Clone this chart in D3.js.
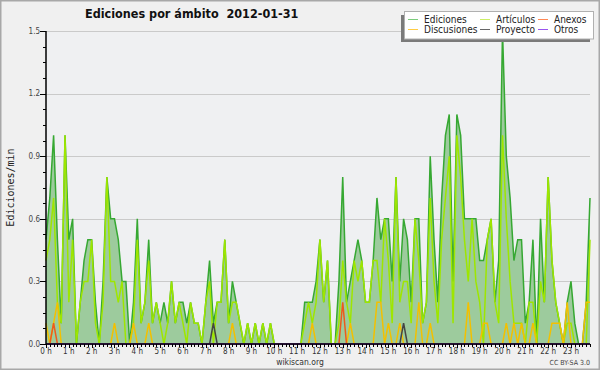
<!DOCTYPE html>
<html>
<head>
<meta charset="utf-8">
<script src="https://cdn.jsdelivr.net/npm/d3@7/dist/d3.min.js"></script>
<style>
body { margin: 0; background: #f0f0f0; }
svg { display: block; font-family: "DejaVu Sans Condensed", "DejaVu Sans", sans-serif; }
</style>
</head>
<body>
<div id="chart"></div>
<script>
// edits per minute, one value per 10 minutes (one line = one hour)
var ediciones = [
    0.5, 0.7, 1.0, 0.5, 0.1, 1.0,   0.5, 0.6, 0.0, 0.2, 0.4, 0.5,
    0.5, 0.2, 0.0, 0.3, 0.8, 0.6,   0.6, 0.5, 0.3, 0.3, 0.0, 0.2,
    0.6, 0.1, 0.2, 0.5, 0.1, 0.2,   0.1, 0.2, 0.1, 0.3, 0.1, 0.2,
    0.2, 0.1, 0.2, 0.1, 0.1, 0.0,   0.2, 0.4, 0.1, 0.2, 0.2, 0.5,
    0.1, 0.3, 0.2, 0.1, 0.0, 0.1,   0.0, 0.1, 0.0, 0.1, 0.0, 0.1,
    0.0, 0.0, 0.0, 0.0, 0.0, 0.0,   0.0, 0.0, 0.2, 0.2, 0.2, 0.3,
    0.5, 0.2, 0.4, 0.0, 0.0, 0.3,   0.8, 0.2, 0.3, 0.4, 0.5, 0.4,
    0.2, 0.2, 0.4, 0.7, 0.5, 0.6,   0.6, 0.3, 0.8, 0.3, 0.6, 0.5,
    0.2, 0.6, 0.6, 0.1, 0.2, 0.9,   0.5, 0.2, 0.7, 1.0, 1.1, 0.3,
    1.1, 1.0, 0.6, 0.6, 0.6, 0.6,   0.4, 0.4, 0.5, 0.6, 0.2, 0.4,
    1.5, 0.9, 0.7, 0.4, 0.5, 0.5,   0.1, 0.2, 0.5, 0.0, 0.6, 0.2,
    0.8, 0.4, 0.2, 0.1, 0.0, 0.2,   0.3, 0.1, 0.0, 0.0, 0.2, 0.7
];
var articulos = [
    0.4, 0.5, 0.7, 0.2, 0.1, 1.0,   0.2, 0.5, 0.0, 0.2, 0.3, 0.3,
    0.5, 0.1, 0.0, 0.2, 0.8, 0.3,   0.3, 0.2, 0.3, 0.0, 0.0, 0.1,
    0.5, 0.1, 0.2, 0.4, 0.1, 0.2,   0.1, 0.0, 0.1, 0.3, 0.1, 0.2,
    0.1, 0.0, 0.2, 0.1, 0.1, 0.0,   0.2, 0.3, 0.0, 0.2, 0.2, 0.5,
    0.1, 0.2, 0.2, 0.1, 0.0, 0.1,   0.0, 0.1, 0.0, 0.1, 0.0, 0.1,
    0.0, 0.0, 0.0, 0.0, 0.0, 0.0,   0.0, 0.0, 0.1, 0.2, 0.1, 0.2,
    0.5, 0.2, 0.4, 0.0, 0.0, 0.1,   0.4, 0.2, 0.1, 0.4, 0.3, 0.4,
    0.2, 0.2, 0.4, 0.4, 0.2, 0.6,   0.4, 0.1, 0.8, 0.2, 0.3, 0.3,
    0.1, 0.6, 0.4, 0.1, 0.2, 0.7,   0.3, 0.1, 0.5, 0.7, 0.9, 0.1,
    1.0, 0.8, 0.5, 0.3, 0.6, 0.3,   0.2, 0.0, 0.5, 0.6, 0.2, 0.1,
    1.0, 0.6, 0.3, 0.1, 0.1, 0.1,   0.0, 0.2, 0.2, 0.0, 0.3, 0.2,
    0.8, 0.4, 0.2, 0.1, 0.0, 0.1,   0.1, 0.0, 0.0, 0.0, 0.0, 0.5
];
var discusiones = [
    0.1, 0, 0.1, 0.2, 0, 0,   0, 0, 0, 0, 0, 0,   0, 0, 0, 0, 0, 0,   0.1, 0, 0, 0, 0, 0.1,
    0, 0, 0, 0.1, 0, 0,   0, 0, 0, 0, 0, 0,   0, 0, 0, 0, 0, 0,   0, 0, 0, 0, 0, 0,
    0, 0.1, 0, 0, 0, 0,   0, 0, 0, 0, 0, 0,   0, 0, 0, 0, 0, 0,   0, 0, 0, 0, 0.1, 0,
    0, 0, 0, 0, 0, 0,   0, 0, 0.1, 0, 0, 0,   0, 0, 0, 0.2, 0.2, 0,   0.1, 0, 0, 0.1, 0, 0,
    0, 0, 0.2, 0, 0, 0.1,   0, 0, 0, 0, 0, 0,   0, 0, 0, 0.2, 0, 0,   0, 0.1, 0.1, 0, 0, 0,
    0, 0.1, 0, 0.1, 0, 0.1,   0, 0, 0.1, 0, 0, 0,   0, 0.1, 0.1, 0.1, 0, 0.2,   0, 0, 0, 0, 0.2, 0.2
];
var anexos = [
    0, 0, 0.1, 0, 0, 0,   0, 0, 0, 0, 0, 0,   0, 0, 0, 0, 0, 0,   0, 0, 0, 0, 0, 0,
    0, 0, 0, 0, 0, 0,   0, 0, 0, 0, 0, 0,   0, 0, 0, 0, 0, 0,   0, 0, 0, 0, 0, 0,
    0, 0, 0, 0, 0, 0,   0, 0, 0, 0, 0, 0,   0, 0, 0, 0, 0, 0,   0, 0, 0, 0, 0, 0,
    0, 0, 0, 0, 0, 0,   0.2, 0, 0, 0, 0, 0,   0, 0, 0, 0, 0, 0,   0, 0, 0, 0, 0, 0,
    0, 0, 0, 0, 0, 0,   0, 0, 0, 0, 0, 0,   0, 0, 0, 0, 0, 0,   0, 0, 0, 0, 0, 0,
    0, 0, 0, 0, 0, 0,   0, 0, 0, 0, 0, 0,   0, 0, 0, 0, 0, 0,   0, 0, 0, 0, 0, 0
];
var proyecto = [
    0, 0, 0, 0, 0, 0,   0, 0, 0, 0, 0, 0,   0, 0, 0, 0, 0, 0,   0, 0, 0, 0, 0, 0,
    0, 0, 0, 0, 0, 0,   0, 0, 0, 0, 0, 0,   0, 0, 0, 0, 0, 0,   0, 0, 0.1, 0, 0, 0,
    0, 0, 0, 0, 0, 0,   0, 0, 0, 0, 0, 0,   0, 0, 0, 0, 0, 0,   0, 0, 0, 0, 0, 0,
    0, 0, 0, 0, 0, 0,   0, 0, 0, 0, 0, 0,   0, 0, 0, 0, 0, 0,   0, 0, 0, 0, 0.1, 0,
    0, 0, 0, 0, 0, 0,   0, 0, 0, 0, 0, 0,   0, 0, 0, 0, 0, 0,   0, 0, 0, 0, 0, 0,
    0, 0, 0, 0, 0, 0,   0, 0, 0, 0, 0, 0,   0, 0, 0, 0, 0, 0,   0, 0, 0, 0, 0, 0
];
var otros = ediciones.map(function () { return 0; });

var legendNames = ["Ediciones", "Discusiones", "Artículos", "Proyecto", "Anexos", "Otros"];
var yTicks = [0.0, 0.3, 0.6, 0.9, 1.2, 1.5];
var hourLabels = d3.range(24).map(function (h) { return h + " h"; });
var title = "Ediciones por ámbito  2012-01-31";

var colors = {
    fill: "#9dcb9d",
    Ediciones: "#36a832",
    "Artículos": "#9ee600",
    Discusiones: "#f3c000",
    Anexos: "#ee5a1c",
    Proyecto: "#444444",
    Otros: "#9a40f0"
};
var legendColors = {
    Ediciones: "#7ccc7c",
    "Artículos": "#ccee66",
    Discusiones: "#ffcc44",
    Anexos: "#ff8855",
    Proyecto: "#666666",
    Otros: "#9955ee"
};

var W = 600, H = 370;
var margin = {top: 31, right: 10, bottom: 26, left: 46},
    width = W - margin.left - margin.right,
    height = H - margin.top - margin.bottom;

var svg = d3.select("#chart").append("svg")
    .attr("width", W)
    .attr("height", H);

svg.append("rect")
    .attr("x", 0.75).attr("y", 0.75)
    .attr("width", W - 1.5).attr("height", H - 1.5)
    .attr("fill", "#f0f0f0")
    .attr("stroke", "#a8a8a8")
    .attr("stroke-width", 1.5);

var g = svg.append("g")
    .attr("transform", "translate(" + margin.left + "," + margin.top + ")");

// minutes since midnight, last sample at 23:50
var x = d3.scaleLinear().domain([0, 1430]).range([0, width]);
var y = d3.scaleLinear().domain([0, 1.5]).range([height, 0]);

g.append("rect")
    .attr("width", width).attr("height", height)
    .attr("fill", "#eff0f2");

// grid
g.selectAll(".grid")
    .data(yTicks.slice(1))
    .enter().append("line")
    .attr("class", "grid")
    .attr("x1", 0).attr("x2", width)
    .attr("y1", function (d) { return Math.round(y(d)) + 0.5; })
    .attr("y2", function (d) { return Math.round(y(d)) + 0.5; })
    .attr("stroke", "#cacaca");

function tm(d, i) { return i * 10; }

var area = d3.area()
    .x(function (d, i) { return x(tm(d, i)); })
    .y0(y(0))
    .y1(function (d) { return y(d); });
var line = d3.line()
    .x(function (d, i) { return x(tm(d, i)); })
    .y(function (d) { return y(d); });

g.append("path")
    .datum(ediciones)
    .attr("d", area)
    .attr("fill", colors.fill);

var series = [
    ["Ediciones", ediciones],
    ["Artículos", articulos],
    ["Discusiones", discusiones],
    ["Anexos", anexos],
    ["Proyecto", proyecto],
    ["Otros", otros]
];
series.forEach(function (s) {
    g.append("path")
        .datum(s[1])
        .attr("d", line)
        .attr("fill", "none")
        .attr("stroke", colors[s[0]])
        .attr("stroke-width", 1.5)
        .attr("stroke-linejoin", "miter");
});

// y axis
var yMinor = d3.range(0, 21).map(function (i) { return i * 0.075; });
g.selectAll(".ytick")
    .data(yMinor)
    .enter().append("line")
    .attr("x1", function (d, i) { return i % 4 === 0 ? -6 : -3; })
    .attr("x2", 0)
    .attr("y1", function (d) { return Math.round(y(d)) + 0.5; })
    .attr("y2", function (d) { return Math.round(y(d)) + 0.5; })
    .attr("stroke", "#000");
g.selectAll(".ylab")
    .data(yTicks)
    .enter().append("text")
    .attr("x", -6)
    .attr("y", function (d) { return y(d); })
    .attr("dy", "0.35em")
    .attr("text-anchor", "end")
    .attr("font-size", 8)
    .attr("fill", "#444")
    .text(function (d) { return d.toFixed(1); });

// x axis
var xMinor = d3.range(0, 144).map(function (i) { return i * 10; });
g.selectAll(".xtick")
    .data(xMinor)
    .enter().append("line")
    .attr("x1", function (d) { return Math.round(x(d)) + 0.5; })
    .attr("x2", function (d) { return Math.round(x(d)) + 0.5; })
    .attr("y1", height)
    .attr("y2", function (d) { return d % 60 === 0 ? height + 4 : height + 3; })
    .attr("stroke", "#000");
g.selectAll(".xlab")
    .data(hourLabels)
    .enter().append("text")
    .attr("x", function (d, i) { return x(i * 60); })
    .attr("y", height + 10)
    .attr("text-anchor", "middle")
    .attr("font-size", 8)
    .attr("fill", "#333")
    .text(function (d) { return d; });

g.append("line")
    .attr("x1", 0).attr("x2", width)
    .attr("y1", height).attr("y2", height)
    .attr("stroke", "#000").attr("stroke-width", 1.5);
g.append("line")
    .attr("x1", 0).attr("x2", 0)
    .attr("y1", 0).attr("y2", height)
    .attr("stroke", "#000").attr("stroke-width", 1.5);

// axis title
svg.append("text")
    .attr("transform", "translate(14," + (margin.top + height / 2) + ") rotate(-90)")
    .attr("text-anchor", "middle")
    .attr("font-family", "DejaVu Sans Mono, monospace")
    .attr("font-size", 10)
    .attr("fill", "#222")
    .text("Ediciones/min");

// title
svg.append("text")
    .attr("x", 85).attr("y", 18)
    .attr("font-weight", "bold")
    .attr("font-size", 12.5)
    .attr("fill", "#111")
    .style("white-space", "pre")
    .text(title);

// legend
var lg = svg.append("g");
lg.append("rect")
    .attr("x", 401).attr("y", 15)
    .attr("width", 189).attr("height", 27)
    .attr("fill", "#7a7a7a");
lg.append("rect")
    .attr("x", 404.5).attr("y", 11.5)
    .attr("width", 189).attr("height", 27.5)
    .attr("fill", "#fff")
    .attr("stroke", "#b0b0b0");
var colX = [408, 480, 538], rowY = [19, 29];
legendNames.forEach(function (name, i) {
    var lx = colX[Math.floor(i / 2)], ly = rowY[i % 2];
    lg.append("line")
        .attr("x1", lx).attr("x2", lx + 10)
        .attr("y1", ly + 0.5).attr("y2", ly + 0.5)
        .attr("stroke", legendColors[name]);
    lg.append("text")
        .attr("x", lx + 16).attr("y", ly + 3.5)
        .attr("font-size", 10)
        .attr("fill", "#222")
        .text(name);
});

// footer
svg.append("text")
    .attr("x", 300).attr("y", 365)
    .attr("text-anchor", "middle")
    .attr("font-size", 8.5)
    .attr("fill", "#333")
    .text("wikiscan.org");
svg.append("text")
    .attr("x", 590).attr("y", 365)
    .attr("text-anchor", "end")
    .attr("font-size", 7)
    .attr("fill", "#444")
    .text("CC BY-SA 3.0");
</script>
</body>
</html>
